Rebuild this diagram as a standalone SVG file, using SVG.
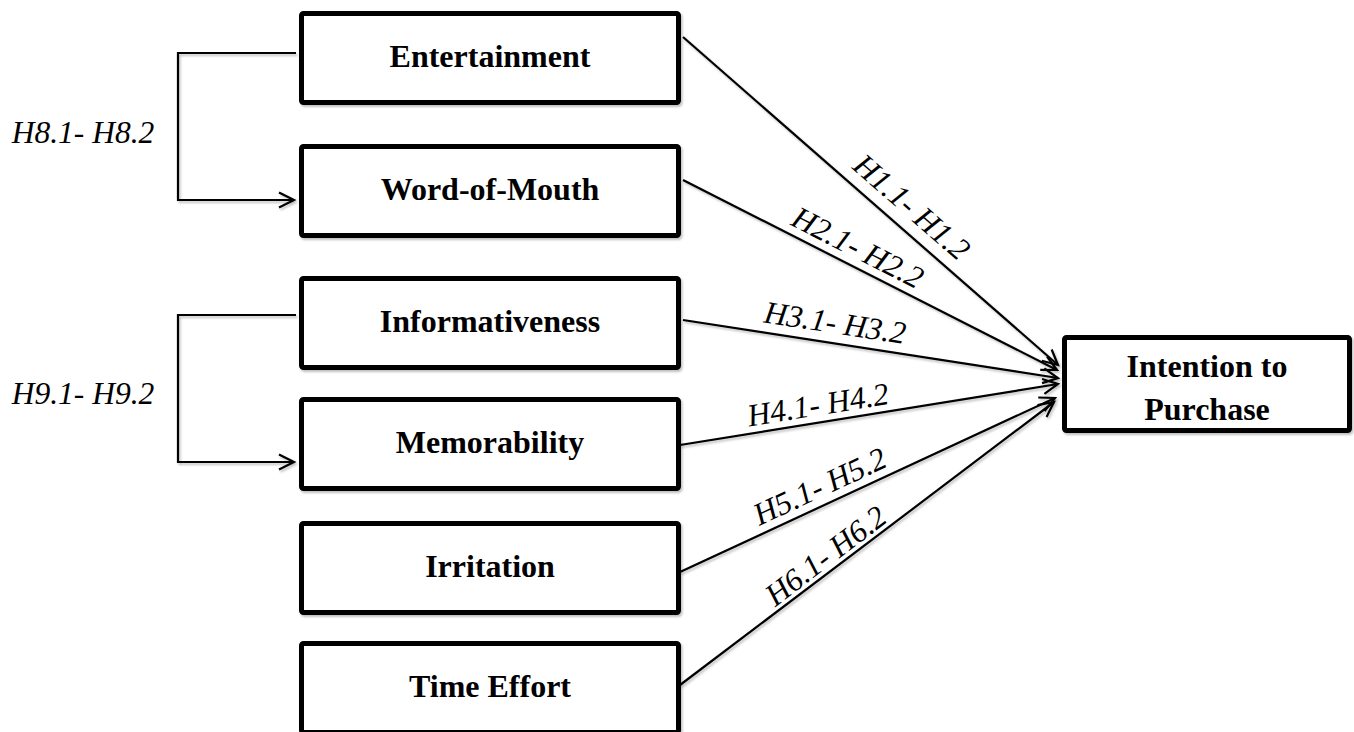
<svg xmlns="http://www.w3.org/2000/svg" width="1354" height="732" viewBox="0 0 1354 732">
<defs>
<marker id="arr" markerUnits="userSpaceOnUse" markerWidth="20" markerHeight="20" viewBox="0 0 20 20" refX="17" refY="10" orient="auto">
<path d="M2,2.5 L17,10 L2,17.5" fill="none" stroke="#000" stroke-width="2.2"/>
</marker>
<filter id="sh" x="-5%" y="-5%" width="110%" height="115%">
<feDropShadow dx="1.5" dy="2" stdDeviation="1.2" flood-color="#000" flood-opacity="0.25"/>
</filter>
</defs>
<style>
.box{fill:#fff;stroke:#000;stroke-width:5;}
.lbl{font-family:"Liberation Serif","Times New Roman",serif;font-weight:bold;font-size:32px;fill:#000;text-anchor:middle;}
.hyp{font-family:"Liberation Serif","Times New Roman",serif;font-style:italic;font-size:31.5px;fill:#000;text-anchor:middle;}
.con{fill:none;stroke:#000;stroke-width:2.2;}
</style>
<rect width="1354" height="732" fill="#fff"/>
<g id="connectors">
<g filter="url(#sh)">
<line class="con" x1="683" y1="37" x2="1058" y2="365" marker-end="url(#arr)"/>
<line class="con" x1="683" y1="180" x2="1057" y2="370" marker-end="url(#arr)"/>
<line class="con" x1="683" y1="320" x2="1058" y2="378" marker-end="url(#arr)"/>
<line class="con" x1="680" y1="445" x2="1058" y2="384" marker-end="url(#arr)"/>
<line class="con" x1="680" y1="572" x2="1055" y2="398" marker-end="url(#arr)"/>
<line class="con" x1="680" y1="685" x2="1054" y2="402" marker-end="url(#arr)"/>
<polyline class="con" points="296,53 178,53 178,200 294,200" marker-end="url(#arr)"/>
<polyline class="con" points="296,315 178,315 178,462 294,462" marker-end="url(#arr)"/>
</g>
<text class="hyp" transform="translate(897,224) rotate(41.2)" y="-12">H1.1- H1.2</text>
<text class="hyp" transform="translate(849,265) rotate(27)" y="-9">H2.1- H2.2</text>
<text class="hyp" transform="translate(832,343) rotate(8.8)" y="-10">H3.1- H3.2</text>
<text class="hyp" transform="translate(821,423) rotate(-9.2)" y="-8">H4.1- H4.2</text>
<text class="hyp" transform="translate(828,504) rotate(-24.9)" y="-9">H5.1- H5.2</text>
<text class="hyp" transform="translate(835,568) rotate(-37.2)" y="-5">H6.1- H6.2</text>
<text class="hyp" x="83" y="143">H8.1- H8.2</text>
<text class="hyp" x="83" y="404">H9.1- H9.2</text>
</g>
<g id="entertainment">
<rect class="box" x="301.5" y="13.5" width="377" height="89" rx="2" filter="url(#sh)"/>
<text class="lbl" x="490" y="67">Entertainment</text>
</g>
<g id="word-of-mouth">
<rect class="box" x="301.5" y="146.5" width="377" height="89" rx="2" filter="url(#sh)"/>
<text class="lbl" x="490" y="200">Word-of-Mouth</text>
</g>
<g id="informativeness">
<rect class="box" x="301.5" y="278.5" width="377" height="89" rx="2" filter="url(#sh)"/>
<text class="lbl" x="490" y="332">Informativeness</text>
</g>
<g id="memorability">
<rect class="box" x="301.5" y="399.5" width="377" height="89" rx="2" filter="url(#sh)"/>
<text class="lbl" x="490" y="453">Memorability</text>
</g>
<g id="irritation">
<rect class="box" x="301.5" y="523.5" width="377" height="89" rx="2" filter="url(#sh)"/>
<text class="lbl" x="490" y="577">Irritation</text>
</g>
<g id="time-effort">
<rect class="box" x="301.5" y="643.5" width="377" height="89" rx="2" filter="url(#sh)"/>
<text class="lbl" x="490" y="697">Time Effort</text>
</g>
<g id="intention-to-purchase">
<rect class="box" x="1064.5" y="337.5" width="285" height="93" rx="2" filter="url(#sh)"/>
<text class="lbl" x="1207" y="377">Intention to</text>
<text class="lbl" x="1207" y="420">Purchase</text>
</g>
</svg>
